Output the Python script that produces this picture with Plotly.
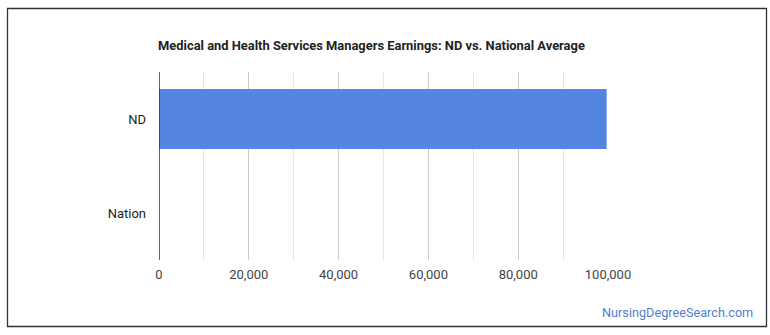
import plotly.graph_objects as go

categories = ["ND", "Nation"]
earnings = [99700, 0]
x_tick_values = [0, 20000, 40000, 60000, 80000, 100000]
x_tick_labels = ["0", "20,000", "40,000", "60,000", "80,000", "100,000"]
title_text = "Medical and Health Services Managers Earnings: ND vs. National Average"
watermark = "NursingDegreeSearch.com"

W, H = 770, 335
L, R, T, B = 159, 162, 72, 75
pw, ph = W - L - R, H - T - B

def px_x(x):
    return (x - L) / pw

def px_y(y):
    return (H - B - y) / ph

fig = go.Figure()
fig.add_trace(go.Bar(
    y=categories, x=earnings, orientation="h",
    marker=dict(color="#5485e0", line=dict(width=0)),
    width=0.64,
))

fig.update_layout(
    width=W, height=H,
    margin=dict(l=L, r=R, t=T, b=B),
    paper_bgcolor="white", plot_bgcolor="white",
    font=dict(family="Roboto, Arial, sans-serif", size=13, color="#444"),
    showlegend=False,
    title=dict(text="<b>" + title_text + "</b>", x=158 / W, xanchor="left",
               xref="container", y=1 - 45 / H, yanchor="middle",
               font=dict(size=12.9, color="#222")),
    xaxis=dict(range=[0, 100000], tickvals=x_tick_values, ticktext=x_tick_labels,
               showgrid=True, gridcolor="#cccccc", gridwidth=1,
               minor=dict(dtick=10000, tick0=0, showgrid=True, gridcolor="#e6e6e6", gridwidth=1),
               zeroline=False, showline=False, ticks="", ticklabelstandoff=5,
               tickfont=dict(size=13, color="#444"), fixedrange=True),
    yaxis=dict(categoryorder="array", categoryarray=categories[::-1],
               showgrid=False, zeroline=False, showline=False, ticks="",
               ticklabelstandoff=12,
               tickfont=dict(size=13, color="#222"), fixedrange=True),
)

# zero baseline
fig.add_shape(type="line", xref="x", yref="paper", x0=0, x1=0, y0=0, y1=1,
              line=dict(color="#333333", width=1.5), layer="above")

# outer border
fig.add_shape(type="rect", xref="paper", yref="paper",
              x0=px_x(7.5), x1=px_x(766.5), y0=px_y(326.5), y1=px_y(8.5),
              line=dict(color="#333333", width=1.3), fillcolor="rgba(0,0,0,0)")

fig.add_annotation(text=watermark, xref="paper", yref="paper",
                   x=px_x(755), y=px_y(312), xanchor="right", yanchor="middle",
                   showarrow=False, font=dict(size=12.7, color="#4f7fcf"))

fig.write_html("out.html")
